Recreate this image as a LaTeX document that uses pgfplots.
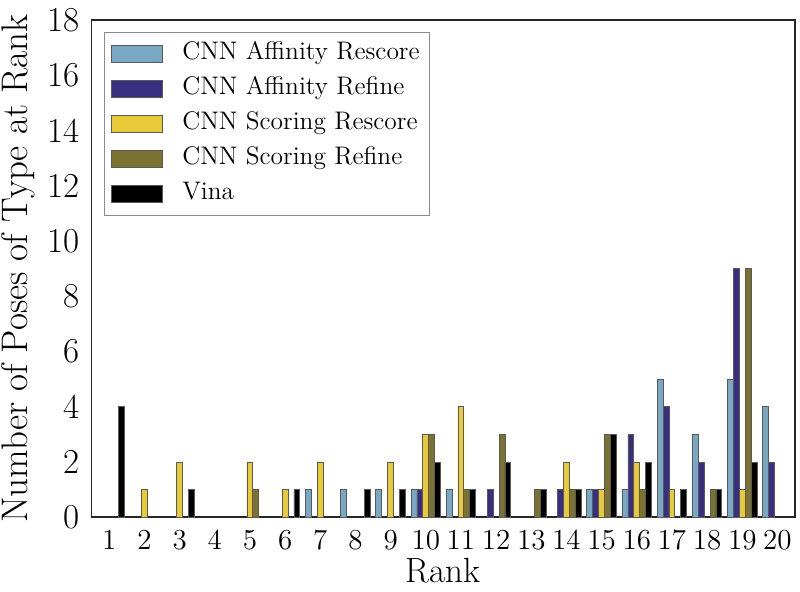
\documentclass[border=0pt]{standalone}
\usepackage{fontspec}
\usepackage{pgfplots}
\pgfplotsset{compat=1.18}
\definecolor{cAR}{RGB}{120,168,195}
\definecolor{cAF}{RGB}{58,46,128}
\definecolor{cSR}{RGB}{232,201,56}
\definecolor{cSF}{RGB}{123,114,49}
\definecolor{cV}{RGB}{0,0,0}
\begin{document}
\begin{tikzpicture}
\begin{axis}[
  name=ax,
  scale only axis,
  width=351.65pt, height=248.65pt,
  xmin=0.5, xmax=20.5, ymin=0, ymax=18,
  xtick={1,...,20}, ytick={0,2,...,18},
  /pgf/number format/assume math mode=true,
  major tick length=0pt,
  axis line style={draw=black!85, line width=0.8pt},
  x tick label style={font=\fontsize{14.5}{16}\selectfont, anchor=north, inner sep=0pt, yshift=-6.3pt},
  y tick label style={font=\fontsize{17.5}{19}\selectfont, anchor=east, inner sep=0pt, xshift=-5.85pt},
  xlabel={Rank}, ylabel={Number of Poses of Type at Rank},
  xlabel style={font=\fontsize{17.5}{21}\selectfont, inner sep=0pt, at={(axis description cs:0.5,0)}, anchor=base, yshift=-32.5pt},
  ylabel style={font=\fontsize{18.5}{22}\selectfont, at={(axis description cs:0,0.5)}, anchor=center, rotate=0, yshift=36.8pt},
  ybar, bar width=0.168,
  every axis plot/.append style={draw=black!65, line width=0.4pt},
  legend image code/.code={\draw[#1] (4pt,-4.25pt) rectangle (29.5pt,4.25pt);},
  legend cell align=left,
  legend style={at={(axis description cs:0,1)}, anchor=north west, xshift=6.15pt, yshift=-6pt,
    draw=black!45, line width=0.5pt, inner sep=3pt, column sep=8pt, row sep=2pt,
    font=\fontsize{12.7}{14}\selectfont,
    nodes={inner sep=2pt, text height=8.5pt, text depth=3pt}},
]
\addplot[fill=cAR, bar shift=-0.336] coordinates {(7,1) (8,1) (9,1) (10,1) (11,1) (15,1) (16,1) (17,5) (18,3) (19,5) (20,4)};
\addlegendentry{CNN Affinity Rescore}
\addplot[fill=cAF, bar shift=-0.168] coordinates {(10,1) (12,1) (14,1) (15,1) (16,3) (17,4) (18,2) (19,9) (20,2)};
\addlegendentry{CNN Affinity Refine}
\addplot[fill=cSR, bar shift=0] coordinates {(2,1) (3,2) (5,2) (6,1) (7,2) (9,2) (10,3) (11,4) (14,2) (15,1) (16,2) (17,1) (19,1)};
\addlegendentry{CNN Scoring Rescore}
\addplot[fill=cSF, bar shift=0.168] coordinates {(5,1) (10,3) (11,1) (12,3) (13,1) (14,1) (15,3) (16,1) (18,1) (19,9)};
\addlegendentry{CNN Scoring Refine}
\addplot[fill=cV, bar shift=0.336] coordinates {(1,4) (3,1) (6,1) (8,1) (9,1) (10,2) (11,1) (12,2) (13,1) (14,1) (15,3) (16,2) (17,1) (18,1) (19,2)};
\addlegendentry{Vina}
\end{axis}
\pgfresetboundingbox
\path ([xshift=-45.85pt,yshift=-37.35pt]ax.south west) rectangle ([xshift=2.5pt,yshift=10pt]ax.north east);
\end{tikzpicture}
\end{document}
